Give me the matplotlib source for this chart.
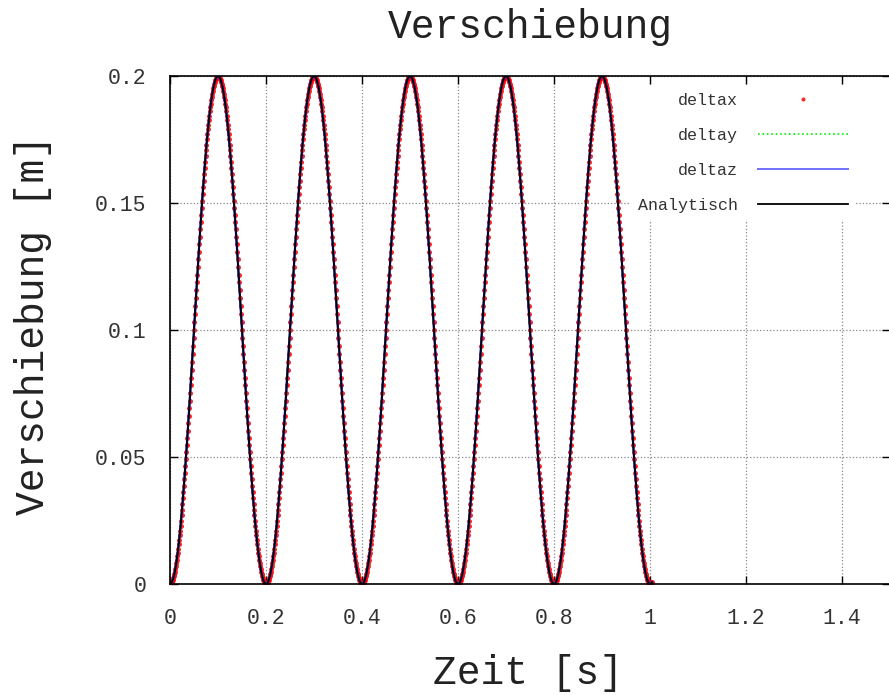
import numpy as np
import matplotlib
matplotlib.use("Agg")
import matplotlib.pyplot as plt

quarter = [0.0, 0.00005, 0.0002, 0.00044, 0.00079, 0.00123, 0.00177, 0.00241,
           0.00314, 0.00397, 0.00489, 0.00591, 0.00702, 0.00822, 0.00952,
           0.0109, 0.01237, 0.01393, 0.01557, 0.01729, 0.0191, 0.02099,
           0.02295, 0.02499, 0.0271, 0.02929, 0.03155, 0.03387, 0.03626,
           0.03871, 0.04122, 0.04379, 0.04642, 0.0491, 0.05183, 0.0546,
           0.05742, 0.06029, 0.06319, 0.06613, 0.0691, 0.0721, 0.07513,
           0.07819, 0.08126, 0.08436, 0.08747, 0.09059, 0.09372, 0.09686, 0.1]
peak = 0.2
n_periods = 5
dt = 0.001

x_ticks = [0, 0.2, 0.4, 0.6, 0.8, 1.0, 1.2, 1.4]
x_labels = ["0", "0.2", "0.4", "0.6", "0.8", "1", "1.2", "1.4"]
y_ticks = [0, 0.05, 0.1, 0.15, 0.2]
y_labels = ["0", "0.05", "0.1", "0.15", "0.2"]

# build the full series from the quarter period (rise, fall, repeat)
rise = quarter + [peak - v for v in reversed(quarter[:-1])]
period = rise + list(reversed(rise[1:-1]))
disp = period * n_periods + [0.0] + quarter[1:5]
t = np.arange(len(disp)) * dt

deltax = disp
deltay = disp
deltaz = disp
analytic = disp

plt.rcParams['font.family'] = ['Liberation Mono', 'DejaVu Sans Mono']

fig = plt.figure(figsize=(8.89, 6.95), dpi=100)
ax = fig.add_axes([170 / 889, 111 / 695, 720 / 889, 508 / 695])

ax.plot(t, deltax, 'o', color='red', ms=3.6, mew=0, alpha=0.85, label='deltax')
ax.plot(t, deltay, ':', color='#00ee00', lw=1.2, label='deltay')
ax.plot(t, deltaz, '-', color='#2020ff', lw=1.6, label='deltaz')
ax.plot(t, analytic, '-', color='black', lw=1.3, label='Analytisch')

ax.set_xlim(0, 1.5)
ax.set_ylim(0, 0.2)
ax.set_xticks(x_ticks)
ax.set_xticklabels(x_labels)
ax.set_yticks(y_ticks)
ax.set_yticklabels(y_labels)
ax.tick_params(direction='in', length=6, width=1, top=True, right=True,
               labelsize=15.5, pad=17, colors='black')
ax.tick_params(axis='x', labelcolor='#333333')
ax.tick_params(axis='y', labelcolor='#333333')
ax.grid(True, color='#888888', linestyle=':', linewidth=0.9)
ax.set_axisbelow(True)
for s in ax.spines.values():
    s.set_linewidth(1.2)

leg = ax.legend(loc='upper right', bbox_to_anchor=(863 / 889, 1 - 78 / 695),
                bbox_transform=fig.transFigure, fontsize=12, numpoints=1,
                markerfirst=False, handlelength=5.4, handletextpad=1.2,
                labelspacing=1.2, borderpad=0.4, frameon=True,
                framealpha=1, facecolor='white', edgecolor='none',
                fancybox=False, markerscale=0.8)
for txt in leg.get_texts():
    txt.set_color('#333333')
leg.get_lines()[2].set_color('#7070ff')
leg.get_lines()[2].set_linewidth(1.4)

fig.text(530 / 889, 1 - 27 / 695, 'Verschiebung', fontsize=28.5,
         ha='center', va='center', color='#222222')
fig.text(528 / 889, 1 - 673 / 695, 'Zeit [s]', fontsize=28.5,
         ha='center', va='center', color='#222222')
fig.text(33 / 889, 1 - 325 / 695, 'Verschiebung [m]', fontsize=28.5,
         ha='center', va='center', rotation=90, color='#222222')

fig.savefig('out.png', dpi=100)
